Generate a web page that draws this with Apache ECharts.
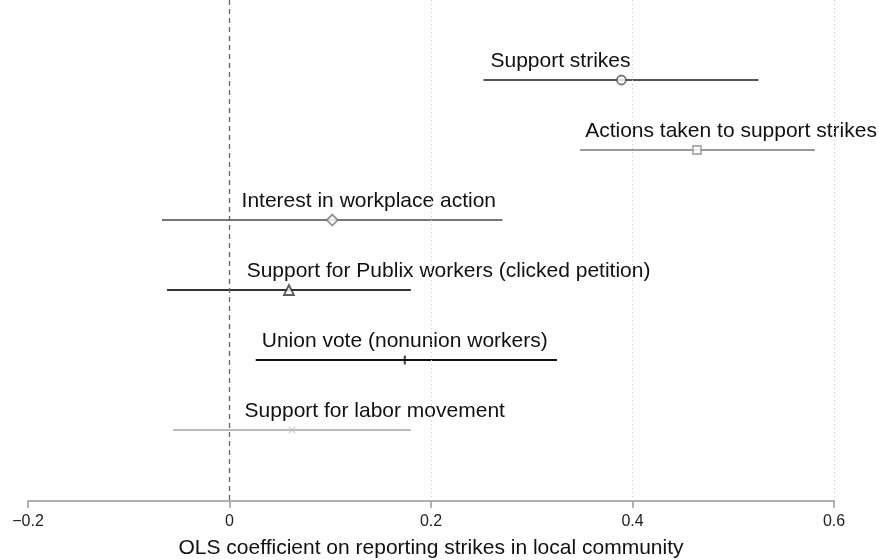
<!DOCTYPE html>
<html><head><meta charset="utf-8">
<script src="https://cdn.jsdelivr.net/npm/echarts@6/dist/echarts.min.js"></script>
<style>html,body{margin:0;padding:0;background:#fff}#c{width:879px;height:560px}</style>
</head><body><div id="c"></div>
<script>
const outcomes = ["Support strikes","Actions taken to support strikes","Interest in workplace action","Support for Publix workers (clicked petition)","Union vote (nonunion workers)","Support for labor movement"];
const coef  = [0.389, 0.464, 0.102, 0.059, 0.174, 0.062];
const ciLow = [0.252, 0.348, -0.067, -0.062, 0.026, -0.056];
const ciHigh= [0.525, 0.581, 0.271, 0.180, 0.325, 0.180];
const labelStart = [0.259, 0.353, 0.012, 0.017, 0.032, 0.015];
const xTicks = [-0.2, 0, 0.2, 0.4, 0.6];

const colors = ['#555555','#9a9a9a','#777777','#333333','#111111','#bbbbbb'];
const barPath = 'path://M0,0 L2,0 L2,10 L0,10 Z';
const xPath = 'path://M0,1 L1,0 L5,4 L9,0 L10,1 L6,5 L10,9 L9,10 L5,6 L1,10 L0,9 L4,5 Z';
const symbols = ['circle','rect','diamond','triangle', barPath, xPath];
const sizes = [9,8,11,10,[2,9],7];

const chart = echarts.init(document.getElementById('c'));
const rows = outcomes.map((n,i)=>[ciLow[i], ciHigh[i], i+1, labelStart[i], n]);
const font = 'Liberation Sans, Arial, sans-serif';
function itemStyleFor(i){
  if(i<4) return {color:'#fff',borderColor:colors[i],borderWidth:1.8};
  return {color:colors[i],borderWidth:0};
}
chart.setOption({
  animation:false,
  grid:{left:28,right:45,top:0,bottom:59,containLabel:false,outerBoundsMode:'none'},
  xAxis:{type:'value',position:'bottom',min:xTicks[0],max:xTicks[xTicks.length-1],interval:0.2,
    axisLine:{show:true,onZero:false,lineStyle:{color:'#999',width:1.5}},
    axisTick:{show:true,length:7,lineStyle:{color:'#999',width:1.5}},
    axisLabel:{fontFamily:font,fontSize:16,color:'#222',margin:13,
      formatter:v=>{const r=Math.round(v*10)/10; return (r===0?'0':String(r)).replace('-','\u2212');}},
    splitLine:{show:false},
    name:'OLS coefficient on reporting strikes in local community',nameLocation:'middle',nameGap:37,
    nameTextStyle:{fontFamily:font,fontSize:21,color:'#111',verticalAlign:'top'}},
  yAxis:{type:'value',min:-0.143,max:7.014,inverse:true,show:false},
  series:[
    {type:'line',data:[],silent:true,
      markLine:{symbol:'none',silent:true,label:{show:false},
        data:[
          {xAxis:0.2,lineStyle:{color:'#c8c8c8',type:[1,3],width:1}},
          {xAxis:0.4,lineStyle:{color:'#c8c8c8',type:[1,3],width:1}},
          {xAxis:0.6,lineStyle:{color:'#c8c8c8',type:[1,3],width:1}},
          {xAxis:0,lineStyle:{color:'#666',type:[5,4],width:1.3}}
        ]}},
    {type:'custom',data:rows,silent:true,z:3,
      renderItem:(params,api)=>{
        const i=params.dataIndex;
        const p1=api.coord([api.value(0),api.value(2)]);
        const p2=api.coord([api.value(1),api.value(2)]);
        const pl=api.coord([api.value(3),api.value(2)]);
        return {type:'group',children:[
          {type:'line',shape:{x1:p1[0],y1:p1[1],x2:p2[0],y2:p2[1]},style:{stroke:colors[i],lineWidth:2}},
          {type:'text',x:pl[0],y:pl[1]-8,style:{text:outcomes[i],fontFamily:font,fontSize:21,fill:'#111',align:'left',verticalAlign:'bottom'}}
        ]};
      }},
    {type:'scatter',z:5,silent:true,
      data:coef.map((c,i)=>({value:[c,i+1],symbol:symbols[i],symbolSize:sizes[i],itemStyle:itemStyleFor(i)}))}
  ]
});
</script></body></html>
